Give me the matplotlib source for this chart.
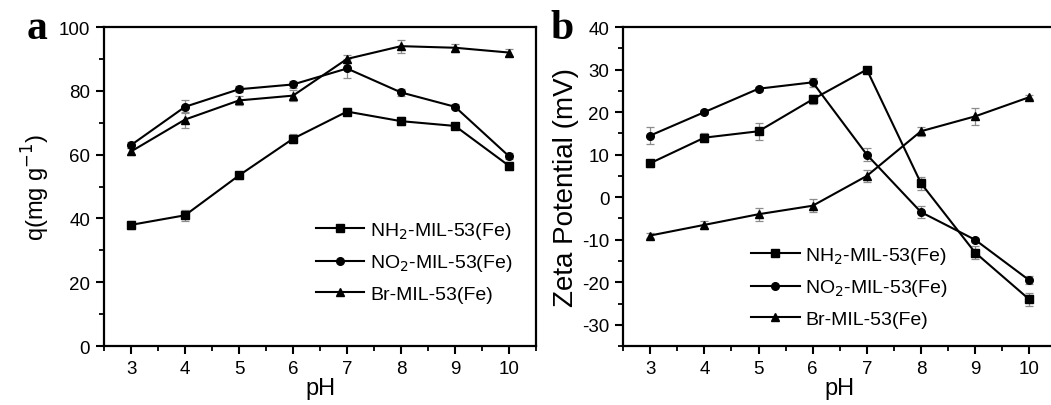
import matplotlib
matplotlib.use("Agg")
import matplotlib.pyplot as plt
from matplotlib.ticker import MultipleLocator

plt.rcParams["font.family"] = ["Liberation Sans", "DejaVu Sans"]
plt.rcParams["axes.unicode_minus"] = False

ph = [3, 4, 5, 6, 7, 8, 9, 10]
labels = ["NH$_2$-MIL-53(Fe)", "NO$_2$-MIL-53(Fe)", "Br-MIL-53(Fe)"]
markers = ["s", "o", "^"]

# panel a: adsorption capacity q (mg/g)
q_nh2 = [38.0, 41.0, 53.5, 65.0, 73.5, 70.5, 69.0, 56.5]
q_no2 = [63.0, 75.0, 80.5, 82.0, 87.0, 79.5, 75.0, 59.5]
q_br = [61.0, 71.0, 77.0, 78.5, 90.0, 94.0, 93.5, 92.0]
qerr_nh2 = [1.2, 1.8, 1.0, 1.5, 1.0, 1.2, 1.0, 1.2]
qerr_no2 = [1.0, 2.0, 1.0, 1.2, 3.0, 1.0, 0.8, 1.0]
qerr_br = [1.2, 2.5, 1.5, 1.8, 1.2, 2.0, 1.2, 1.2]

# panel b: zeta potential (mV)
z_nh2 = [8.0, 14.0, 15.5, 23.0, 30.0, 3.3, -13.0, -24.0]
z_no2 = [14.5, 20.0, 25.5, 27.0, 10.0, -3.5, -10.0, -19.5]
z_br = [-9.0, -6.5, -4.0, -2.0, 5.0, 15.5, 19.0, 23.5]
zerr_nh2 = [0.8, 1.0, 2.0, 1.0, 0.5, 1.5, 1.5, 1.5]
zerr_no2 = [2.0, 0.5, 0.5, 1.0, 1.5, 1.5, 0.5, 1.0]
zerr_br = [0.5, 1.0, 1.5, 1.5, 1.5, 1.0, 2.0, 0.5]

fig = plt.figure(figsize=(10.51, 4.06), dpi=100)
ax1 = fig.add_axes([0.099, 0.145, 0.411, 0.786])
ax2 = fig.add_axes([0.593, 0.145, 0.412, 0.786])


def draw(ax, ys, errs):
    for y, e, m, lab in zip(ys, errs, markers, labels):
        ax.errorbar(ph, y, yerr=e, fmt="none", ecolor="#8c8c8c", elinewidth=0.9,
                    capsize=3, capthick=0.9, zorder=2)
        ax.plot(ph, y, color="black", lw=1.5, marker=m, markersize=5.5, label=lab, zorder=3)
    ax.set_xlim(2.5, 10.5)
    ax.xaxis.set_major_locator(MultipleLocator(1))
    ax.xaxis.set_minor_locator(MultipleLocator(0.5))
    for s in ax.spines.values():
        s.set_linewidth(1.6)
    ax.tick_params(which="major", direction="out", length=6, width=1.5, labelsize=13.5, pad=4)
    ax.tick_params(which="minor", direction="out", length=3.5, width=1.3)
    ax.tick_params(top=False, right=False, which="both")
    ax.set_xlabel("pH", fontsize=17, labelpad=0)


draw(ax1, [q_nh2, q_no2, q_br], [qerr_nh2, qerr_no2, qerr_br])
ax1.set_ylim(0, 100)
ax1.yaxis.set_major_locator(MultipleLocator(20))
ax1.yaxis.set_minor_locator(MultipleLocator(10))
ax1.set_ylabel("q(mg g$^{-1}$)", fontsize=17, labelpad=5)
ax1.legend(loc="center left", bbox_to_anchor=(0.49, 0.266), frameon=False, fontsize=14,
           borderpad=0, borderaxespad=0, handlelength=2.5, handletextpad=0.3, labelspacing=0.6)

draw(ax2, [z_nh2, z_no2, z_br], [zerr_nh2, zerr_no2, zerr_br])
ax2.set_ylim(-35, 40)
ax2.yaxis.set_major_locator(MultipleLocator(10))
ax2.yaxis.set_minor_locator(MultipleLocator(5))
ax2.set_ylabel("Zeta Potential (mV)", fontsize=20, labelpad=2)
ax2.legend(loc="center left", bbox_to_anchor=(0.295, 0.188), frameon=False, fontsize=14,
           borderpad=0, borderaxespad=0, handlelength=2.5, handletextpad=0.3, labelspacing=0.6)

fig.text(0.025, 0.905, "a", fontsize=30, weight="bold", family="Liberation Serif")
fig.text(0.524, 0.905, "b", fontsize=30, weight="bold", family="Liberation Serif")

fig.savefig("out.png", dpi=100)
